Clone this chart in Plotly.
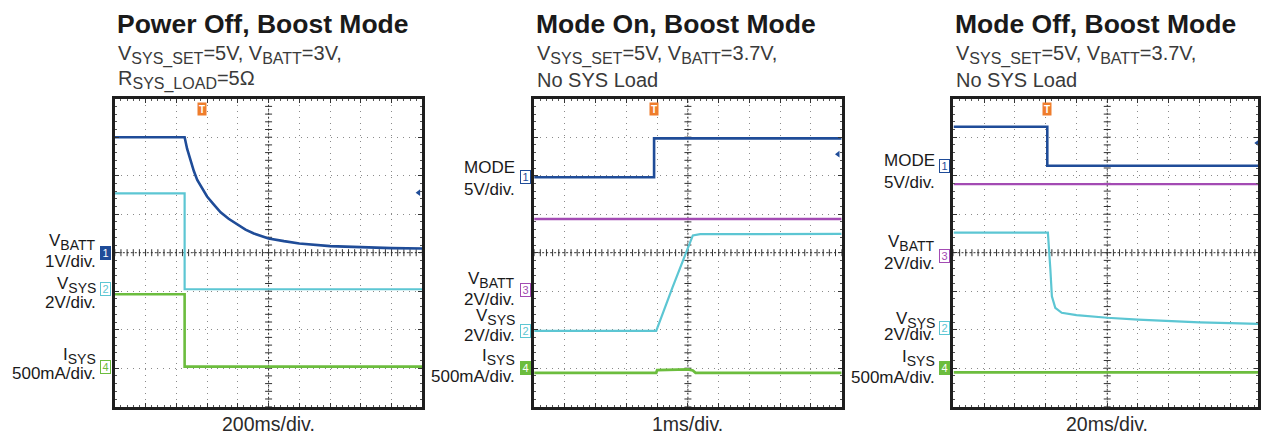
import numpy as np
import plotly.graph_objects as go

W, H = 1261, 436

# ---------------- data (in scope divisions: x 0..10, y -4..4) ----------------
TITLES = ["Power Off, Boost Mode", "Mode On, Boost Mode", "Mode Off, Boost Mode"]
SUB1 = [("V", "SYS_SET", "=5V, V", "BATT", "=3V,"),
        ("V", "SYS_SET", "=5V, V", "BATT", "=3.7V,"),
        ("V", "SYS_SET", "=5V, V", "BATT", "=3.7V,")]
SUB2 = [("R", "SYS_LOAD", "=5Ω"), ("No SYS Load",), ("No SYS Load",)]
TIMEBASE = ["200ms/div.", "1ms/div.", "20ms/div."]

# Panel 1 : Power Off
P1_VBATT_T = [0, 2.27, 2.35, 2.47, 2.57, 2.68, 2.8, 3.0, 3.2, 3.44, 3.7, 4.0, 4.25, 4.52, 5.0, 5.5, 6.0, 7.0, 8.0, 9.0, 10.0]
P1_VBATT   = [3.0, 3.0, 2.70, 2.37, 2.12, 1.89, 1.72, 1.46, 1.27, 1.05, 0.88, 0.72, 0.60, 0.50, 0.37, 0.30, 0.24, 0.17, 0.14, 0.12, 0.11]
P1_VSYS_T  = [0, 2.27, 2.27, 10]
P1_VSYS    = [1.54, 1.54, -0.95, -0.95]
P1_ISYS_T  = [0, 2.27, 2.27, 10]
P1_ISYS    = [-1.08, -1.08, -2.96, -2.96]

# Panel 2 : Mode On
P2_MODE_T  = [0, 3.9, 3.9, 10]
P2_MODE    = [1.96, 1.96, 2.97, 2.97]
P2_VBATT_T = [0, 10]
P2_VBATT   = [0.875, 0.875]
P2_VSYS_T  = [0, 3.97, 4.5, 5.0, 5.16, 5.4, 10]
P2_VSYS    = [-2.03, -2.03, -0.9, 0.13, 0.45, 0.48, 0.49]
P2_ISYS_T  = [0, 3.97, 4.0, 5.0, 5.16, 5.25, 10]
P2_ISYS    = [-3.12, -3.12, -3.05, -3.03, -3.06, -3.12, -3.12]

# Panel 3 : Mode Off
P3_MODE_T  = [0, 3.05, 3.05, 10]
P3_MODE    = [3.27, 3.27, 2.26, 2.26]
P3_VBATT_T = [0, 10]
P3_VBATT   = [1.78, 1.78]
P3_VSYS_T  = [0, 3.07, 3.15, 3.2, 3.31, 3.52, 4, 5, 6, 7, 8, 9, 10]
P3_VSYS    = [0.52, 0.52, -0.43, -1.13, -1.43, -1.56, -1.62, -1.69, -1.74, -1.78, -1.81, -1.83, -1.85]
P3_ISYS_T  = [0, 10]
P3_ISYS    = [-3.11, -3.11]

TRIG_X = [2.83, 3.9, 3.04]
REF_ARROW_Y = [1.56, 2.56, 2.85]

# channel markers: (label, y in div, color key, filled)
CH_MARKS = [
    [("1", 0.0, "blue", True), ("2", -0.95, "cyan", False), ("4", -2.96, "green", False)],
    [("1", 1.96, "blue", False), ("3", -0.97, "purple", False), ("2", -2.03, "cyan", False), ("4", -2.99, "green", True)],
    [("1", 2.26, "blue", False), ("3", -0.09, "purple", False), ("2", -1.96, "cyan", False), ("4", -3.0, "green", True)],
]

# side labels: (main text, subscript, y pixel centre)
SIDE_LABELS = [
    [("V", "BATT", 242), ("1V/div.", "", 261), ("V", "SYS", 285), ("2V/div.", "", 302),
     ("I", "SYS", 356), ("500mA/div.", "", 373)],
    [("MODE", "", 167), ("5V/div.", "", 190), ("V", "BATT", 280), ("2V/div.", "", 299),
     ("V", "SYS", 317), ("2V/div.", "", 335), ("I", "SYS", 357), ("500mA/div.", "", 376)],
    [("MODE", "", 161), ("5V/div.", "", 182), ("V", "BATT", 243), ("2V/div.", "", 263),
     ("V", "SYS", 320), ("2V/div.", "", 334), ("I", "SYS", 358), ("500mA/div.", "", 377)],
]

# ---------------- styling ----------------
COL = {"blue": "#1f4c98", "cyan": "#5cc6d3", "green": "#6cbd3e", "purple": "#a34bb3"}
ORANGE = "#ef7d2c"
FONT = "Liberation Sans, Arial, sans-serif"
LEFTS = [115, 535, 955]
PW = 308
TOP, BOT = 98.7, 406.7


def subtxt(s, px):
    return f'<sub><span style="font-size:{px}px">{s}</span></sub>'


fig = go.Figure()

panels = [
    [(P1_VBATT_T, P1_VBATT, "blue", 2.6), (P1_VSYS_T, P1_VSYS, "cyan", 2.2), (P1_ISYS_T, P1_ISYS, "green", 2.6)],
    [(P2_MODE_T, P2_MODE, "blue", 2.6), (P2_VBATT_T, P2_VBATT, "purple", 2.4),
     (P2_VSYS_T, P2_VSYS, "cyan", 2.2), (P2_ISYS_T, P2_ISYS, "green", 2.8)],
    [(P3_MODE_T, P3_MODE, "blue", 2.6), (P3_VBATT_T, P3_VBATT, "purple", 2.4),
     (P3_VSYS_T, P3_VSYS, "cyan", 2.2), (P3_ISYS_T, P3_ISYS, "green", 2.8)],
]

ann = []
minor_x = np.round(np.arange(0, 10.001, 0.2), 3)
minor_y = np.round(np.arange(-4, 4.001, 0.2), 3)

for i in range(3):
    xa = "x" if i == 0 else f"x{i+1}"
    ya = "y" if i == 0 else f"y{i+1}"
    L = LEFTS[i]
    R = min(L + PW, W - 1)
    xname = "xaxis" if i == 0 else f"xaxis{i+1}"
    yname = "yaxis" if i == 0 else f"yaxis{i+1}"
    common = dict(showgrid=True, gridcolor="#8a8a8a", gridwidth=1, griddash="1px,5px",
                  zeroline=False, showticklabels=False, showline=True, linecolor="#1e1e1e",
                  linewidth=3, mirror="allticks", ticks="inside", ticklen=4, tickcolor="#333",
                  dtick=1, fixedrange=True,
                  minor=dict(ticks="inside", ticklen=2, tickcolor="#555", dtick=0.2, showgrid=False))
    xr = [0, 10 * (R - L) / PW]
    fig.update_layout({
        xname: dict(common, domain=[L / W, R / W], range=xr, anchor=ya, tick0=0),
        yname: dict(common, domain=[1 - BOT / H, 1 - TOP / H], range=[-4, 4], anchor=xa, tick0=-4),
    })
    # centre cross-hair with tick marks
    fig.add_trace(go.Scatter(x=[0, 10], y=[0, 0], xaxis=xa, yaxis=ya, mode="lines",
                             line=dict(color="#333", width=1, dash="2px,2px"), hoverinfo="skip", showlegend=False))
    fig.add_trace(go.Scatter(x=[5, 5], y=[-4, 4], xaxis=xa, yaxis=ya, mode="lines",
                             line=dict(color="#333", width=1, dash="2px,2px"), hoverinfo="skip", showlegend=False))
    fig.add_trace(go.Scatter(x=minor_x, y=np.zeros_like(minor_x), xaxis=xa, yaxis=ya, mode="markers",
                             marker=dict(symbol="line-ns", size=5, line=dict(width=1, color="#333")),
                             hoverinfo="skip", showlegend=False))
    fig.add_trace(go.Scatter(x=np.full_like(minor_y, 5.0), y=minor_y, xaxis=xa, yaxis=ya, mode="markers",
                             marker=dict(symbol="line-ew", size=5, line=dict(width=1, color="#333")),
                             hoverinfo="skip", showlegend=False))
    # signal traces
    for (tx, ty, c, w) in panels[i]:
        fig.add_trace(go.Scatter(x=tx, y=ty, xaxis=xa, yaxis=ya, mode="lines",
                                 line=dict(color=COL[c], width=w), hoverinfo="skip", showlegend=False))
    # reference arrow at right edge
    fig.add_trace(go.Scatter(x=[9.88], y=[REF_ARROW_Y[i]], xaxis=xa, yaxis=ya, mode="markers",
                             marker=dict(symbol="triangle-left", size=6, color=COL["blue"]),
                             hoverinfo="skip", showlegend=False))
    # trigger marker
    ann.append(dict(x=TRIG_X[i], y=4, xref=xa, yref=ya, yanchor="top", yshift=-3,
                    text="<b>T</b>", showarrow=False, font=dict(family=FONT, size=10, color="white"),
                    bgcolor=ORANGE, borderpad=0, width=8, height=12))
    # titles
    ann.append(dict(x=(L + 0) / W, y=1 - 24 / H, xref="paper", yref="paper", xanchor="left", yanchor="middle",
                    text=f"<b>{TITLES[i]}</b>", showarrow=False,
                    font=dict(family=FONT, size=26.5, color="#1a1a1a")))
    s1 = SUB1[i]
    t1 = s1[0] + subtxt(s1[1], 16) + s1[2] + subtxt(s1[3], 16) + s1[4]
    ann.append(dict(x=(L + 1) / W, y=1 - 55 / H, xref="paper", yref="paper", xanchor="left", yanchor="middle",
                    text=t1, showarrow=False, font=dict(family=FONT, size=20, color="#3a3a3a")))
    s2 = SUB2[i]
    t2 = s2[0] if len(s2) == 1 else s2[0] + subtxt(s2[1], 16) + s2[2]
    ann.append(dict(x=(L + 1) / W, y=1 - 80 / H, xref="paper", yref="paper", xanchor="left", yanchor="middle",
                    text=t2, showarrow=False, font=dict(family=FONT, size=20, color="#3a3a3a")))
    ann.append(dict(x=(L + PW / 2) / W, y=1 - 424 / H, xref="paper", yref="paper", xanchor="center",
                    yanchor="middle", text=TIMEBASE[i], showarrow=False,
                    font=dict(family=FONT, size=19.5, color="#2a2a2a")))
    # side labels
    for (txt, sb, py) in SIDE_LABELS[i]:
        full = txt + (subtxt(sb, 14) if sb else "")
        ann.append(dict(x=(L - 17) / W, y=1 - py / H, xref="paper", yref="paper", xanchor="right",
                        yanchor="middle", text=full, showarrow=False,
                        font=dict(family=FONT, size=17, color="#1a1a1a")))
    # channel markers
    for (lab, yv, c, filled) in CH_MARKS[i]:
        ann.append(dict(x=(L - 9) / W, y=yv, xref="paper", yref=ya, xanchor="center", yanchor="middle",
                        text=lab, showarrow=False,
                        font=dict(family=FONT, size=11, color="white" if filled else COL[c]),
                        bgcolor=COL[c] if filled else "white", bordercolor=COL[c], borderwidth=1,
                        borderpad=0, width=9, height=12))

fig.update_layout(width=W, height=H, margin=dict(l=0, r=0, t=0, b=0),
                  paper_bgcolor="white", plot_bgcolor="white",
                  annotations=ann, showlegend=False)

fig.write_html("out.html", config={"displayModeBar": False},
               post_script="document.body.style.margin='0';document.body.style.overflow='hidden';")
